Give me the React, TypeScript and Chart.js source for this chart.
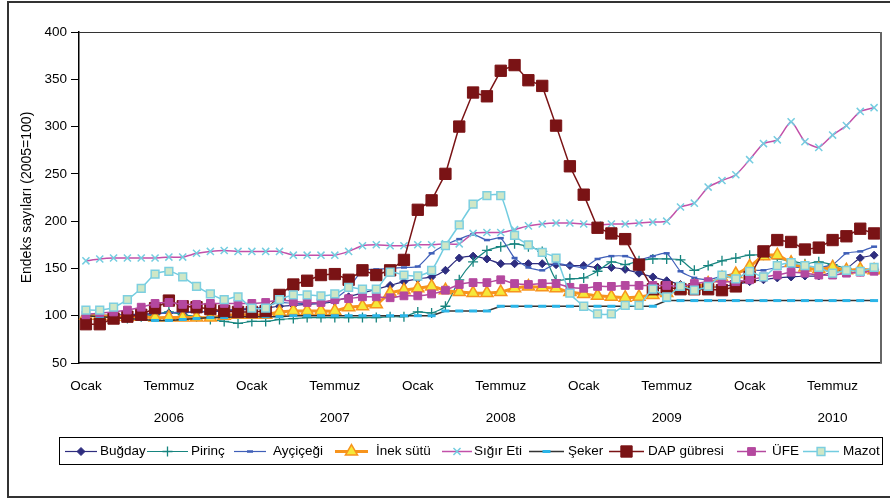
import React, { useEffect, useRef } from 'react';
import { Chart, registerables } from 'chart.js';
import { drawPoint } from 'chart.js/helpers';

Chart.register(...registerables);

// ---- data ----
const monthNames = ['Ocak', 'Şubat', 'Mart', 'Nisan', 'Mayıs', 'Haziran', 'Temmuz', 'Ağustos', 'Eylül', 'Ekim', 'Kasım', 'Aralık'];
const years = [2006, 2007, 2008, 2009, 2010];
const monthCount = 58; // Ocak 2006 – Ekim 2010
const categories: string[] = [];
for (const y of years) for (const m of monthNames) if (categories.length < monthCount) categories.push(`${m} ${y}`);

const yTicks = [50, 100, 150, 200, 250, 300, 350, 400];
const yTitle = 'Endeks sayıları (2005=100)';

const seriesNames = ['Buğday', 'Pirinç', 'Ayçiçeği', 'İnek sütü', 'Sığır Eti', 'Şeker', 'DAP gübresi', 'ÜFE', 'Mazot'];

const bugday = [100, 100, 101, 101, 102, 102, 103, 103, 104, 104, 105, 106, 107, 108, 110, 111, 112, 113, 115, 120, 124, 128, 132, 136, 139, 141, 148, 161, 163, 160, 155, 155, 155, 155, 154, 153, 153, 151, 151, 149, 145, 141, 137, 133, 131, 130, 131, 133, 136, 138, 140, 141, 142, 142, 146, 150, 161, 164];
const pirinc = [100, 99, 98, 97, 99, 101, 104, 101, 99, 96, 94, 92, 94, 94, 96, 97, 98, 98, 98, 98, 98, 98, 99, 99, 104, 103, 110, 138, 157, 169, 173, 176, 173, 168, 138, 139, 140, 147, 157, 154, 158, 160, 160, 159, 148, 153, 158, 161, 164, 164, 160, 158, 155, 157, 154, 150, 147, 149];
const aycicegi = [102, 101, 100, 100, 101, 102, 103, 104, 104, 105, 106, 107, 108, 110, 114, 113, 113, 113, 118, 129, 148, 149, 150, 151, 152, 166, 175, 181, 186, 180, 182, 161, 151, 148, 155, 153, 151, 160, 163, 163, 159, 163, 166, 147, 140, 138, 142, 145, 148, 148, 151, 152, 150, 151, 154, 166, 168, 173];
const inekSutu = [100, 100, 99, 99, 99, 98, 98, 98, 98, 98, 100, 101, 101, 101, 104, 105, 105, 105, 105, 109, 110, 112, 124, 127, 129, 131, 127, 125, 124, 124, 125, 129, 131, 130, 129, 125, 123, 121, 120, 119, 120, 122, 124, 128, 131, 134, 140, 144, 152, 163, 164, 156, 151, 149, 151, 148, 149, 148];
const sigirEti = [158, 160, 161, 161, 161, 161, 162, 162, 166, 168, 169, 168, 168, 168, 168, 164, 164, 164, 164, 168, 174, 175, 174, 174, 175, 175, 176, 176, 187, 188, 188, 191, 195, 197, 198, 198, 197, 196, 197, 197, 198, 199, 200, 215, 219, 236, 243, 249, 265, 282, 286, 305, 284, 278, 291, 301, 316, 320];
const seker = [100, 99, 98, 97, 96, 95, 95, 96, 97, 98, 98, 99, 99, 99, 99, 100, 100, 100, 100, 100, 100, 100, 100, 100, 100, 100, 105, 105, 105, 105, 110, 110, 110, 110, 110, 110, 110, 110, 110, 110, 110, 110, 116, 116, 116, 116, 116, 116, 116, 116, 116, 116, 116, 116, 116, 116, 116, 116];
const dapGubresi = [91, 91, 97, 99, 101, 108, 116, 110, 109, 107, 105, 104, 104, 105, 122, 133, 137, 143, 144, 138, 148, 143, 148, 159, 212, 222, 250, 300, 336, 332, 359, 365, 349, 343, 301, 258, 228, 193, 187, 181, 154, 128, 130, 128, 128, 128, 127, 131, 141, 168, 180, 178, 170, 172, 180, 184, 192, 187];
const ufe = [101, 103, 104, 106, 109, 113, 114, 112, 112, 113, 113, 113, 113, 114, 117, 115, 114, 114, 117, 118, 120, 120, 119, 121, 121, 123, 127, 133, 135, 135, 138, 134, 133, 134, 134, 130, 129, 131, 131, 132, 132, 132, 132, 131, 134, 136, 136, 136, 138, 141, 143, 146, 145, 143, 143, 145, 146, 147];
const mazot = [106, 106, 109, 117, 129, 144, 147, 141, 131, 123, 117, 120, 108, 108, 117, 122, 122, 121, 123, 130, 128, 128, 146, 143, 142, 148, 174, 196, 218, 227, 227, 185, 175, 167, 161, 124, 110, 102, 102, 111, 111, 128, 120, 131, 127, 131, 143, 139, 147, 141, 153, 156, 153, 151, 145, 148, 147, 151];

const seriesData = [bugday, pirinc, aycicegi, inekSutu, sigirEti, seker, dapGubresi, ufe, mazot];

// ---- styles ----
const styles = [
  { line: '#2E2D7F', lw: 1.2, ps: 'rectRot', r: 4, bg: '#2E2D7F', bc: '#2E2D7F', bw: 1, t: 0.2 },
  { line: '#16847F', lw: 1.2, ps: 'cross', r: 5, bg: '#16847F', bc: '#16847F', bw: 1.3, t: 0.2 },
  { line: '#3F5FB8', lw: 1.2, ps: 'line', r: 3, bg: '#3F5FB8', bc: '#3F5FB8', bw: 2.5, t: 0.2 },
  { line: '#F7941D', lw: 3, ps: 'triangle', r: 7, bg: '#F5E83A', bc: '#F7941D', bw: 1.5, t: 0.2 },
  { line: '#C250A9', lw: 1.5, ps: 'crossRot', r: 5, bg: '#74CDE0', bc: '#74CDE0', bw: 1.5, t: 0.2 },
  { line: '#333333', lw: 1.5, ps: 'line', r: 4, bg: '#2BB5E8', bc: '#2BB5E8', bw: 3, t: 0 },
  { line: '#7A1315', lw: 1.5, ps: 'rect', r: 8, bg: '#7A1315', bc: '#7A1315', bw: 1, t: 0 },
  { line: '#B4489F', lw: 1.5, ps: 'rect', r: 5.5, bg: '#B4489F', bc: '#B4489F', bw: 1, t: 0.2 },
  { line: '#72CCE0', lw: 1.5, ps: 'rect', r: 5.5, bg: '#CFE7C6', bc: '#7DCFE0', bw: 1.5, t: 0.2 },
];

const legendPos = [
  { x0: 65, x1: 97, tx: 100 },
  { x0: 147, x1: 188, tx: 191 },
  { x0: 234, x1: 266, tx: 273 },
  { x0: 335, x1: 368, tx: 376 },
  { x0: 442, x1: 472, tx: 474 },
  { x0: 529, x1: 564, tx: 568 },
  { x0: 609, x1: 644, tx: 648 },
  { x0: 737, x1: 766, tx: 772 },
  { x0: 803, x1: 839, tx: 843 },
];

const FONT = '"Liberation Sans", Arial, sans-serif';

const framePlugin = {
  id: 'frame',
  beforeDraw(chart: any) {
    const ctx = chart.ctx;
    ctx.save();
    ctx.fillStyle = '#fff';
    ctx.fillRect(0, 0, chart.width, chart.height);
    ctx.strokeStyle = '#333';
    ctx.lineWidth = 2;
    ctx.strokeRect(8, 2, 900, 495);
    ctx.restore();
  },
  afterDraw(chart: any) {
    const ctx = chart.ctx;
    const a = chart.chartArea;
    ctx.save();
    ctx.strokeStyle = '#333';
    ctx.lineWidth = 1;
    ctx.beginPath();
    ctx.moveTo(a.left, a.top + 0.5);
    ctx.lineTo(a.right, a.top + 0.5);
    ctx.stroke();
    ctx.strokeStyle = '#666';
    ctx.lineWidth = 2;
    ctx.beginPath();
    ctx.moveTo(a.right, a.top);
    ctx.lineTo(a.right, a.bottom);
    ctx.stroke();

    // legend box
    ctx.strokeStyle = '#000';
    ctx.lineWidth = 1;
    ctx.strokeRect(59.5, 437.5, 823, 27);
    const cy = 451.5;
    ctx.font = `13.5px ${FONT}`;
    ctx.textBaseline = 'middle';
    ctx.textAlign = 'left';
    seriesNames.forEach((name, i) => {
      const s = styles[i];
      const p = legendPos[i];
      ctx.strokeStyle = s.line;
      ctx.lineWidth = s.lw;
      ctx.beginPath();
      ctx.moveTo(p.x0, cy);
      ctx.lineTo(p.x1, cy);
      ctx.stroke();
      ctx.fillStyle = s.bg;
      ctx.strokeStyle = s.bc;
      ctx.lineWidth = s.bw;
      drawPoint(ctx, { pointStyle: s.ps, radius: s.r, rotation: 0, borderWidth: s.bw } as any, (p.x0 + p.x1) / 2, cy);
      ctx.fillStyle = '#000';
      ctx.fillText(name, p.tx, cy);
    });
    ctx.restore();
  },
};

export default function App() {
  const ref = useRef<HTMLCanvasElement | null>(null);
  useEffect(() => {
    if (!ref.current) return;
    Chart.defaults.font.family = FONT;
    Chart.defaults.font.size = 13.5;
    Chart.defaults.color = '#000';
    const datasets = seriesNames.map((name, i) => {
      const s = styles[i];
      return {
        label: name,
        data: seriesData[i],
        borderColor: s.line,
        borderWidth: s.lw,
        backgroundColor: s.bg,
        pointStyle: s.ps,
        pointRadius: s.r,
        pointHoverRadius: s.r,
        pointBackgroundColor: s.bg,
        pointBorderColor: s.bc,
        pointBorderWidth: s.bw,
        tension: s.t,
        fill: false,
        clip: false,
        order: seriesNames.length - i,
      };
    });
    const chart = new Chart(ref.current, {
      type: 'line',
      data: { labels: categories, datasets: datasets as any },
      options: {
        responsive: false,
        animation: false,
        events: [],
        layout: { padding: { left: 0, right: 8, top: 32, bottom: 0 } },
        plugins: { legend: { display: false }, tooltip: { enabled: false } },
        scales: {
          x: {
            type: 'category',
            offset: true,
            grid: { display: true, drawOnChartArea: false, drawTicks: false },
            border: { display: true, color: '#000', width: 1.5 },
            ticks: {
              autoSkip: false,
              maxRotation: 0,
              minRotation: 0,
              padding: 15,
              font: { size: 13.5, lineHeight: 16 / 13.5 },
              callback: (_v: any, idx: number) => {
                const m = idx % 12;
                if (m === 0) return monthNames[0];
                if (m === 6) return [monthNames[6], '', String(years[Math.floor(idx / 12)])];
                return '';
              },
            },
            afterFit: (scale: any) => { scale.height = 137; },
          },
          y: {
            min: yTicks[0],
            max: yTicks[yTicks.length - 1],
            afterBuildTicks: (scale: any) => { scale.ticks = yTicks.map((v) => ({ value: v })); },
            grid: { display: true, drawOnChartArea: false, drawTicks: true, tickLength: 8, color: '#000' },
            border: { display: true, color: '#000', width: 1.5 },
            ticks: { padding: 4, font: { size: 13.5 } },
            title: { display: true, text: yTitle, font: { size: 14 }, padding: { top: 18.5, bottom: 0 } },
            afterFit: (scale: any) => { scale.width = 79; },
          },
        },
      },
      plugins: [framePlugin],
    });
    return () => chart.destroy();
  }, []);
  return (
    <div style={{ position: 'fixed', left: 0, top: 0, width: 890, height: 500, background: '#fff' }}>
      <canvas ref={ref} width={890} height={500} style={{ display: 'block' }} />
    </div>
  );
}
